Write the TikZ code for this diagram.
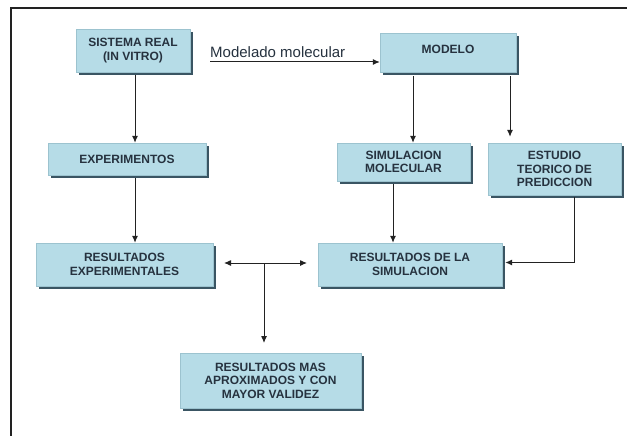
\documentclass[tikz,border=0pt]{standalone}
\usepackage{fontspec}
\setmainfont{Liberation Sans}
\usetikzlibrary{shadows,arrows.meta}
\definecolor{boxfill}{HTML}{B6DCE7}
\definecolor{boxedge}{HTML}{9CC3CF}
\definecolor{shadowc}{HTML}{3A5563}
\definecolor{txtc}{HTML}{26323F}
\definecolor{linec}{HTML}{222222}
\tikzset{
  flowbox/.style={draw=boxedge, line width=0.4pt, fill=boxfill, align=center, inner sep=0pt,
    text=txtc, font=\bfseries\fontsize{12}{13.5}\selectfont,
    drop shadow={shadow xshift=3pt, shadow yshift=-3pt, fill=shadowc, opacity=1}},
  arr/.style={draw=linec, line width=1pt, -{Latex[length=7pt,width=6pt]}},
  plain/.style={draw=linec, line width=1pt},
}
\begin{document}
\begin{tikzpicture}[x=1pt,y=-1pt]
\useasboundingbox (0,0) rectangle (627,436);
\fill[white] (0,0) rectangle (627,436);
\draw[line width=2pt, color=linec] (10.5,436) -- (10.5,8.5) -- (627,8.5);

\node[flowbox, minimum width=114pt, minimum height=43pt] (sis) at (133,50.5) {SISTEMA REAL\\(IN VITRO)};
\node[flowbox, minimum width=136pt, minimum height=39pt, text depth=6pt] (mod) at (448,52.5) {MODELO};
\node[flowbox, minimum width=158pt, minimum height=32pt] (exp) at (127,159) {EXPERIMENTOS};
\node[flowbox, minimum width=133pt, minimum height=38pt] (sim) at (403.5,162) {SIMULACION\\MOLECULAR};
\node[flowbox, minimum width=133pt, minimum height=52pt] (est) at (554.5,169) {ESTUDIO\\TEORICO DE\\PREDICCION};
\node[flowbox, minimum width=177pt, minimum height=43pt] (rexp) at (124.5,264.5) {RESULTADOS\\EXPERIMENTALES};
\node[flowbox, minimum width=184pt, minimum height=43pt] (rsim) at (410,264.5) {RESULTADOS DE LA\\SIMULACION};
\node[flowbox, minimum width=181pt, minimum height=55pt] (rmas) at (270.5,380.5) {RESULTADOS MAS\\APROXIMADOS Y CON\\MAYOR VALIDEZ};

\node[anchor=base west, inner sep=0pt, font=\fontsize{15}{18}\selectfont, text=txtc] (lbl) at (210,58) {Modelado molecular};
\coordinate (m0) at (210,62);
\draw[arr] (m0) -- (m0 -| mod.west);

\draw[arr] ([xshift=2pt,yshift=-3pt]sis.south) -- ([xshift=2pt]sis.south |- exp.north);
\draw[arr] ([xshift=8pt,yshift=-3pt]exp.south) -- ([xshift=8pt]exp.south |- rexp.north);
\draw[arr] ([xshift=-35pt,yshift=-4pt]mod.south) -- ([xshift=-35pt]mod.south |- sim.north);
\draw[arr] ([xshift=62pt,yshift=-4pt]mod.south) -- ([xshift=62pt,yshift=6pt]mod.south |- est.north);
\draw[arr] ([xshift=-10.5pt,yshift=-3pt]sim.south) -- ([xshift=-10.5pt]sim.south |- rsim.north);
\draw[arr] ([xshift=19.5pt,yshift=-2pt]est.south) |- ([xshift=3pt,yshift=2pt]rsim.east);

\coordinate (dl) at (224,263);
\coordinate (dr) at (307,263);
\coordinate (dm) at (264,263);
\coordinate (dd) at (264,343);
\draw[draw=linec, line width=1pt, {Latex[length=7pt,width=6pt]}-{Latex[length=7pt,width=6pt]}] (dl) -- (dr);
\draw[arr] (dm) -- (dd);
\end{tikzpicture}
\end{document}
